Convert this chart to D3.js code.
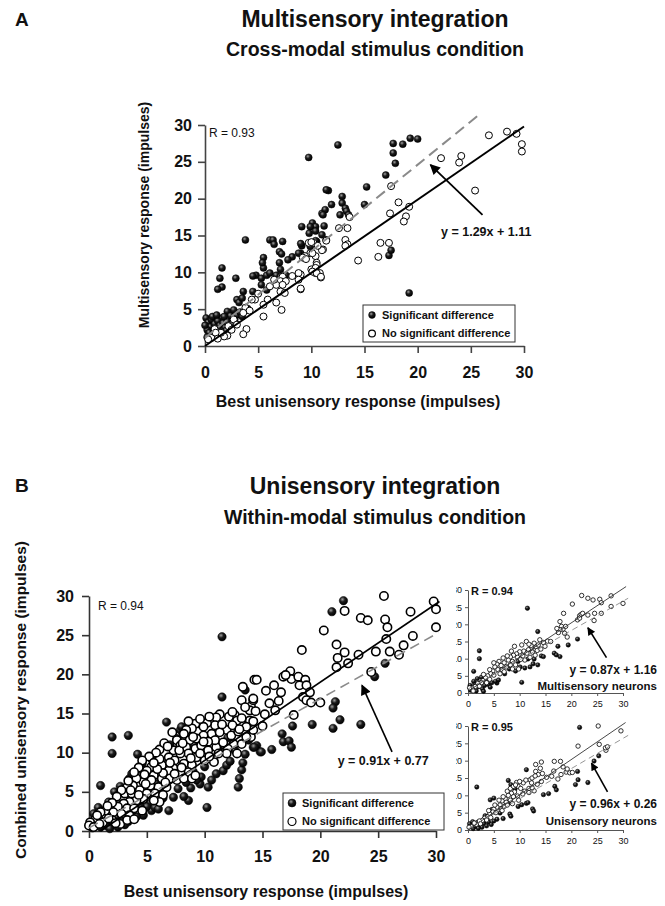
<!DOCTYPE html>
<html><head><meta charset="utf-8">
<script src="https://cdn.jsdelivr.net/npm/d3@7"></script>
<style>body{margin:0;background:#fff} svg{display:block} text{font-family:"Liberation Sans",Arial,Helvetica,sans-serif;fill:#111}</style>
</head><body><svg id="c" width="665" height="906"></svg>
<script>
// ---------- DATA ----------
const ticks = [0,5,10,15,20,25,30];
const tickLabels = ["0","5","10","15","20","25","30"];

// Panel A: Multisensory integration (cross-modal)
const aSig = [[9.75,25.6],[12.5,27.3],[17.7,27.5],[17.7,26.2],[18.6,27.4],[19.3,28.2],[20.0,28.1],[17.9,24.8],[17.0,23.2],[15.2,21.6],[11.6,21.1],[11.4,21.2],[12.9,20.3],[11.9,19.2],[12.9,19.4],[13.2,18.7],[13.3,18.3],[13.5,17.8],[12.7,17.8],[11.0,18.0],[11.3,18.5],[11.1,17.8],[15.0,19.2],[9.1,16.2],[10.1,16.7],[10.4,16.2],[11.2,16.3],[9.9,16.2],[9.8,15.3],[10.4,15.6],[11.0,15.1],[10.5,14.2],[10.4,14.3],[9.1,13.6],[9.0,13.9],[9.9,13.5],[9.0,12.6],[8.8,12.6],[8.2,12.1],[17.3,12.3],[17.5,13.0],[19.2,7.2],
[3.8,14.4],[1.6,10.6],[1.4,9.2],[1.6,8.0],[1.2,7.7],[2.9,9.2],[5.5,10.6],[6.1,14.4],[6.4,14.4],[6.5,13.8],[7.3,14.2],[7.0,12.8],[7.2,12.5],[5.5,12.0],[5.4,11.3],[7.0,11.3],[7.1,10.4],[7.8,11.7],[4.8,9.6],[4.5,9.5],[5.3,9.2],[5.8,9.6],[6.1,9.9],[6.7,9.6],[7.1,9.4],[7.6,9.6],[3.6,7.4],[3.0,6.3],[3.2,5.9],[3.5,6.5],[4.5,7.4],[5.3,8.3],[5.8,7.6],[2.4,4.5],[2.1,4.7],[2.4,4.1],[1.6,3.8],
[0.1,3.8],[0.3,3.2],[0.5,2.6],[0.2,2.2],[0.6,3.6],[0.9,3.0],[1.0,2.4],[1.2,3.4],[1.4,2.8],[1.7,3.1],[1.9,2.5],[2.1,3.3],[2.3,2.8],[0.4,1.8],[0.8,2.0],[1.3,2.0],[1.8,4.0],[2.6,3.0],[2.8,3.6],[3.0,4.2],[0.0,2.8],[0.7,4.0],[1.1,4.2],[3.3,4.6],[2.0,2.1],[1.5,1.6],[3.5,4.0],[4.0,5.1],[2.7,4.9],[0.2,1.2]];
const aNon = [[9.75,14.0],[10.2,14.0],[9.9,12.6],[9.4,12.2],[10.4,12.2],[11.4,14.4],[11.1,13.1],[10.5,11.3],[10.0,10.4],[10.4,9.9],[10.8,9.9],[10.9,9.3],[9.0,9.7],[8.8,9.9],[9.0,7.7],[8.8,9.0],[8.2,9.5],[7.3,9.4],[7.1,8.8],[7.6,8.8],[6.7,8.3],[6.5,9.0],[7.3,8.3],[7.1,7.4],[7.5,7.2],[6.7,5.9],[7.2,4.9],[5.9,6.3],[5.5,5.6],[5.5,4.0],[4.7,6.3],[4.4,6.3],[3.8,5.2],[3.6,4.5],[3.9,2.3],[3.6,1.6],[2.7,3.6],[2.2,2.7],[2.1,1.4],[1.8,1.3],[1.5,1.8],[0.9,2.3],[0.6,1.1],[1.0,1.8],[6.1,8.1],[5.0,7.1],[4.2,4.8],[3.0,2.9],[2.5,2.2],[0.3,0.9],[1.2,1.0],
[26.7,28.6],[24.1,25.8],[23.9,24.9],[22.2,25.5],[25.4,21.1],[17.5,21.7],[18.2,19.5],[19.2,18.9],[18.9,17.6],[18.7,16.9],[17.4,18.0],[16.5,14.0],[17.3,14.0],[16.3,12.1],[14.4,11.6],[13.6,17.5],[13.4,16.0],[12.6,16.0],[13.2,14.4],[13.4,13.8],[13.2,13.6],[11.4,14.3],[11.0,13.0],[10.6,13.6],[10.0,14.1],[10.1,12.6],[9.2,12.0],[9.5,11.8],[10.5,11.0],[10.4,10.6],[10.1,10.1],[10.5,9.9],[10.9,9.4],[9.0,7.8],[28.4,29.1],[29.3,28.8],[29.8,27.4],[29.8,26.4]];
const aUnity = [[0,0],[30,29.8]];
const aFit = [[0,1.1],[25.6,31.2]];
const aArrow = [[26.1,17.8],[21.2,24.6]];

// Panel B: Unisensory integration (within-modal)
const bSig = [[11.5,24.8],[11.5,17.1],[6.7,13.9],[2.0,12.0],[3.4,12.2],[2.0,9.9],[1.0,5.8],[2.7,5.7],[10.2,3.0],[6.9,2.6],[7.3,4.3],[8.6,3.9],[8.2,4.4],[4.6,8.6],[5.4,9.2],[7.9,12.9],[8.0,13.3],[9.5,13.7],[13.5,18.0],[12.9,5.6],[13.0,6.7],[13.2,7.8],[13.3,8.7],[13.5,9.8],[14.2,10.7],[14.5,10.9],[14.8,10.1],[11.6,7.7],[11.9,8.4],[11.0,7.3],[10.6,6.5],[9.6,6.0],[9.7,6.9],[10.3,5.6],[9.3,6.5],[5.3,3.5],[5.4,2.6],[5.0,3.1],[5.7,3.0],[6.0,2.8],[3.5,6.7],[3.7,7.3],[4.4,7.0],[4.7,2.0],[4.1,1.8],[2.8,1.4],[2.1,0.9],[1.5,0.7],[1.0,0.5],[0.7,1.8],[0.4,2.2],[2.4,1.8],[1.7,3.7],[1.8,3.1],
[22.0,29.4],[21.0,28.0],[25.6,21.4],[24.7,19.7],[21.3,16.5],[21.1,15.7],[21.7,14.2],[21.1,13.1],[23.5,13.6],[19.3,13.6],[17.6,13.4],[16.7,12.4],[16.8,11.4],[17.3,11.5],[17.5,10.7],[15.8,10.4],[14.9,10.1],[14.3,10.7],
[1.2,2.4],[2.2,2.6],[2.6,3.4],[3.0,2.2],[3.4,1.2],[3.8,2.6],[0.3,0.4],[1.8,0.3],[2.5,0.5],[3.1,0.8],[1.3,1.3],[0.8,3.0],[4.4,3.2],[3.6,4.0],[6.4,4.2],[6.2,5.1],[7.7,5.4],[8.8,5.5],[9.0,7.6],[8.4,6.2],[10.0,8.2],[10.8,9.0],[12.2,8.9],[12.6,10.3],[11.2,10.4],[7.0,11.0],[7.6,11.8],[8.6,12.4],[9.1,11.0],[6.2,8.8],[6.8,7.2],[5.8,6.0],[4.9,5.2],[3.0,4.8],[2.2,5.0],[4.2,9.8],[13.8,11.6],[12.0,11.9],[14.0,12.6]];
const bNon = [[25.5,30.0],[29.8,29.3],[30.0,28.3],[30.0,26.0],[27.8,28.0],[22.1,28.1],[23.5,27.2],[24.1,26.9],[25.6,27.0],[25.8,26.0],[20.3,25.6],[25.7,24.5],[28.0,24.9],[27.2,23.7],[26.8,22.5],[26.0,22.9],[24.8,22.9],[21.4,23.8],[21.5,22.1],[22.1,22.8],[22.4,21.4],[21.4,20.9],[23.3,22.5],[24.4,20.3],[18.4,23.1],[16.8,19.7],[17.4,20.4],[17.5,19.4],[17.0,19.9],[18.1,19.7],[18.7,19.3],[18.2,18.6],[18.8,18.6],[19.1,17.7],[18.5,17.1],[18.8,16.7],[19.2,16.4],[20.0,16.4],[16.6,17.7],[16.1,15.4],[17.7,14.8],[14.3,19.3],[14.0,15.9],[14.2,16.7],[13.9,14.1],[14.2,14.0],[15.0,13.4],[14.0,12.0],
[14.5,19.3],[13.3,18.4],[13.2,16.7],[14.2,16.9],[13.9,15.4],[12.6,14.8],[12.8,14.1],[13.2,14.4],[12.1,14.6],[11.3,14.9],[11.0,14.5],[11.9,12.9],[12.3,12.2],[12.5,11.1],[12.0,10.5],[11.9,9.9],[12.8,9.9],[13.2,11.1],[13.6,12.0],[14.2,12.9],[10.9,13.5],[10.2,13.8],[9.9,13.3],[9.2,13.7],[8.9,13.1],[8.4,12.9],[8.2,12.4],[10.6,12.4],[9.9,12.2],[9.3,11.8],[8.7,11.6],[7.6,11.6],[7.9,10.9],[8.4,10.7],[9.2,10.5],[9.7,10.9],[10.3,10.3],[11.0,10.7],[11.2,9.9],[10.8,8.8],[10.0,9.0],[9.3,9.4],[8.6,9.9],[7.9,9.9],[7.3,10.3],[6.9,9.4],[7.4,9.0],[8.2,8.6],[8.9,8.4],[8.6,7.5],[7.9,7.5],[7.3,8.0],[6.9,7.7],[6.3,8.4],[6.1,9.2],[6.1,10.4],[5.4,8.2],[5.0,7.7],[5.6,7.1],[6.3,6.7],[7.0,6.7],[7.6,6.5],[8.2,6.7],[8.9,6.7],[9.2,7.1],[6.7,5.6],[6.0,5.6],[5.3,5.8],[4.7,6.3],[4.1,6.7],[3.8,5.8],[3.3,5.6],[3.1,4.8],[3.7,4.8],[4.4,5.2],[5.0,4.8],[5.7,4.8],[6.4,4.6],[6.1,3.7],[5.6,3.9],[4.7,4.1],[4.1,3.9],[3.5,3.7],[3.0,3.5],[2.5,3.1],[3.3,2.9],[3.9,2.9],[4.6,2.6],[3.5,2.0],[2.8,2.2],[2.1,2.4],[1.5,2.0],[1.4,2.6],[1.0,2.4],[0.5,1.4],[0.1,1.1],[0.0,0.7],[0.4,0.5],[1.2,1.1],[2.0,1.4],[2.7,0.9],[3.3,1.4],[3.9,1.5],
[9.6,14.3],[10.4,14.6],[8.6,14.0],[7.2,12.6],[6.5,11.2],[5.8,10.0],[5.2,9.5],[4.6,9.0],[4.8,7.2],[4.3,8.1],[3.9,7.5],[3.4,6.4],[2.8,5.2],[2.4,4.4],[2.0,3.6],[1.6,3.2],[0.7,2.0],[0.9,0.9],[1.7,1.6],[2.3,1.0],[4.3,4.6],[5.4,6.5],[6.6,6.2],[7.4,7.3],[8.0,8.1],[8.8,9.3],[9.6,9.9],[10.4,9.5],[10.9,11.6],[11.6,11.3],[11.3,12.6],[12.9,12.7],[13.6,13.3],[12.4,13.5],[10.3,11.4],[9.0,12.0],[7.8,10.3],[7.0,8.7],[6.4,7.4],[5.9,7.9],[5.6,8.7],[4.9,6.0],[3.6,5.2],[6.8,10.8],[8.1,11.2],[9.9,11.4],[11.5,13.6],[12.4,15.2],[13.5,15.8],[14.4,15.3],[15.2,14.9],[15.6,16.3],[16.4,16.6],[15.3,17.9],[16.0,18.6],[13.0,13.0]];
const bUnity = [[1.0,0],[30.3,29.3]];
const bFit = [[0,0.4],[30.2,25.3]];
const bArrow = [[26.2,10.1],[23.6,18.6]];

// Inset 1: multisensory neurons
const mSig = [[11.5,24.7],[13.5,17.9],[2.2,12.3],[2.2,10.0],[1.1,6.3],[10.4,3.1],[5.6,2.9],[7.1,5.6],[9.7,9.2],[10.1,7.6],[11.0,7.3],[12.0,7.6],[12.6,8.5],[13.5,8.2],[14.2,10.8],[14.6,10.6],[16.7,11.6],[17.1,11.1],[17.4,13.6],[17.8,10.6],[19.4,14.0],[21.2,15.7],[12.8,9.9],[11.6,9.9],[9.2,6.4],[8.0,7.0],[5.3,3.4],[5.9,3.8],
[0.5,0.8],[0.9,1.5],[1.3,2.6],[1.6,0.6],[2.0,1.8],[2.4,3.0],[2.8,1.2],[3.2,2.2],[3.5,3.6],[3.9,2.5],[4.3,1.7],[4.6,3.0],[1.1,3.4],[1.8,4.2],[2.6,4.6],[0.4,2.2],[3.0,0.5],[4.0,4.2]];
const mNon = [[22.0,28.4],[23.2,27.6],[24.2,27.1],[25.5,27.3],[25.8,26.3],[27.7,28.3],[20.2,25.9],[27.7,25.2],[30.0,26.1],[18.5,23.2],[21.6,22.5],[21.9,22.9],[22.2,23.2],[23.2,22.7],[24.5,23.2],[25.8,23.2],[21.2,21.3],[21.6,21.8],[24.4,21.1],[17.8,20.8],[18.1,19.4],[18.4,18.6],[18.9,19.4],[17.8,18.4],[18.7,17.4],[19.2,16.3],[17.5,17.6],[17.2,18.8],[9.0,13.6],[10.4,14.0],[11.3,15.0],[12.8,14.5],[13.9,15.5],[14.6,14.7],[14.9,13.6],[13.2,13.4],[12.3,13.1],[11.7,12.6],[10.8,12.2],[10.0,12.0],[9.4,11.4],[8.8,11.0],[8.2,10.5],[9.6,10.4],[10.6,10.8],[11.4,11.6],[12.5,11.9],[13.4,12.4],[14.1,12.8],[11.0,9.6],[10.2,9.8],[8.6,9.2],[7.8,9.6],[7.0,8.8],[6.4,8.0],[7.4,7.6],[8.2,8.2],[6.0,9.2],[5.6,8.4],[5.2,7.6],[5.8,6.8],[6.6,6.8],[4.8,6.4],[4.4,5.6],[5.0,5.2],[3.8,5.0],[3.4,4.4],[4.2,4.0],[2.9,3.6],[2.6,3.0],[3.6,3.0],[1.9,2.8],[1.4,1.9],[0.8,1.2],[0.3,1.5],[1.0,0.6],[2.2,2.0],[6.2,5.6],[7.0,6.2],[8.6,7.0],[9.2,8.2],[9.8,7.0],[12.0,10.4],[13.0,11.0],[6.8,10.2],[7.6,10.8],[8.4,12.2],[5.0,8.8],[4.2,6.8],[3.0,5.4],[15.4,15.1],[16.0,15.0],[13.6,14.0],[12.2,13.8],[11.8,14.2]];
const mUnity = [[0,0.5],[30.6,31.0]];
const mFit = [[0,1.16],[31.0,27.6]];
const mArrow = [[26.8,10.3],[23.2,19.0]];

// Inset 2: unisensory neurons
const uSig = [[21.6,29.6],[25.3,21.4],[24.4,19.9],[11.3,17.4],[7.8,14.3],[1.7,12.4],[4.3,8.7],[5.0,9.2],[8.3,13.1],[9.1,11.8],[11.3,7.7],[11.6,7.9],[12.5,6.1],[12.7,5.5],[14.6,10.2],[15.6,10.5],[16.8,12.6],[17.1,11.6],[21.2,16.9],[21.3,14.5],[20.8,13.1],[23.2,13.7],[7.7,7.7],[8.1,4.6],[8.3,4.0],[9.7,6.8],[10.4,7.3],[3.3,4.1],[4.6,5.9],[6.2,4.9],[5.6,3.1],[6.8,3.3],
[0.3,1.8],[0.9,2.4],[1.4,1.0],[1.8,2.2],[2.3,1.5],[2.7,0.8],[3.1,1.9],[3.6,1.2],[4.0,2.3],[4.5,1.6],[5.0,2.6],[2.0,0.5],[1.0,0.4],[3.3,2.8]];
const uNon = [[25.2,30.0],[29.6,28.6],[21.3,24.2],[25.4,24.7],[26.7,23.0],[26.6,23.7],[18.4,18.2],[19.0,16.7],[19.7,16.5],[16.7,19.8],[17.9,19.8],[16.2,15.5],[17.4,14.7],[14.2,19.6],[13.1,18.9],[14.0,17.8],[13.1,16.9],[13.6,16.0],[14.4,16.3],[12.0,14.5],[12.3,13.6],[12.8,11.3],[11.8,12.0],[10.7,13.6],[9.4,13.7],[9.7,12.6],[10.2,12.0],[11.0,11.2],[9.0,11.0],[8.4,10.6],[7.8,10.0],[8.8,9.6],[9.6,9.8],[7.2,9.0],[6.6,8.4],[7.4,8.0],[8.2,8.6],[6.2,7.2],[5.6,6.6],[6.4,6.2],[7.0,6.8],[5.0,6.0],[4.8,5.2],[5.4,5.0],[4.2,4.6],[3.8,3.8],[4.4,3.6],[3.2,3.4],[2.8,2.8],[3.6,2.9],[2.2,2.6],[1.6,1.6],[1.2,2.0],[0.6,1.0],[0.2,0.8],[2.4,1.8],[4.0,5.6],[5.2,7.2],[6.0,8.6],[6.8,9.6],[7.6,11.2],[8.2,12.0],[8.8,12.6],[9.2,13.0],[10.0,14.0],[11.2,14.4],[12.4,15.0],[13.0,15.6],[10.6,10.4],[11.8,10.8],[12.4,12.2],[9.8,8.6],[8.6,7.6],[7.6,7.2],[6.6,5.6],[15.2,15.2],[14.2,14.0],[13.4,13.2],[18.0,16.0],[16.6,17.0],[20.2,16.6],[19.2,17.6],[27.0,24.0]];
const uUnity = [[0,0],[30.5,31.0]];
const uFit = [[0,0.3],[31.0,27.3]];
const uArrow = [[27.0,11.0],[23.9,19.3]];

// ---------- DRAW ----------
const svg = d3.select("#c");
const defs = svg.append("defs");
const grad = defs.append("radialGradient").attr("id","ball").attr("cx","38%").attr("cy","34%").attr("r","66%");
grad.append("stop").attr("offset","0%").attr("stop-color","#a0a0a0");
grad.append("stop").attr("offset","45%").attr("stop-color","#1c1c1c");
grad.append("stop").attr("offset","100%").attr("stop-color","#000");
defs.append("clipPath").attr("id","insetClip").append("rect").attr("x",456).attr("y",570).attr("width",220).attr("height",300);
function marker(id, w){
  defs.append("marker").attr("id",id).attr("viewBox","0 0 10 10").attr("refX",9).attr("refY",5)
    .attr("markerUnits","userSpaceOnUse").attr("markerWidth",w).attr("markerHeight",w*0.8).attr("orient","auto")
    .append("path").attr("d","M0,0 L10,5 L0,10 Z").attr("fill","#000");
}
marker("arrBig",13); marker("arrSmall",10);

function panel(o){
  const x = d3.scaleLinear().domain([0,30]).range([o.x0,o.x1]);
  const y = d3.scaleLinear().domain([0,30]).range([o.y0,o.y1]);
  const g = svg.append("g");
  if (o.clip) g.attr("clip-path",`url(#${o.clip})`);
  const ax = g.append("g").attr("transform",`translate(0,${o.y0})`)
    .call(d3.axisBottom(x).tickValues(ticks).tickFormat((d,i)=>tickLabels[i]).tickSize(o.tick).tickSizeOuter(0).tickPadding(o.padX));
  const ay = g.append("g").attr("transform",`translate(${o.x0},0)`)
    .call(d3.axisLeft(y).tickValues(ticks).tickFormat((d,i)=>tickLabels[i]).tickSize(o.tick).tickSizeOuter(0).tickPadding(o.padY));
  [ax,ay].forEach(a=>{
    a.select(".domain").attr("stroke",o.axisColor).attr("stroke-width",o.axisW);
    a.selectAll(".tick line").attr("stroke",o.axisColor).attr("stroke-width",o.axisW);
    a.selectAll(".tick text").attr("font-size",o.tf).attr("font-weight",o.tw).attr("fill","#111")
      .attr("font-family",'"Liberation Sans",Arial,sans-serif');
  });
  const line = d3.line().x(d=>x(d[0])).y(d=>y(d[1]));
  g.append("g").selectAll("circle").data(o.sig).join("circle")
    .attr("cx",d=>x(d[0])).attr("cy",d=>y(d[1])).attr("r",o.r)
    .attr("fill","url(#ball)").attr("stroke","#000").attr("stroke-width",0.5);
  g.append("g").selectAll("circle").data(o.non).join("circle")
    .attr("cx",d=>x(d[0])).attr("cy",d=>y(d[1])).attr("r",o.r)
    .attr("fill","#fff").attr("stroke","#000").attr("stroke-width",o.ow);
  g.append("path").attr("d",line(o.unity)).attr("fill","none").attr("stroke",o.unityColor).attr("stroke-width",o.lw);
  g.append("path").attr("d",line(o.fit)).attr("fill","none").attr("stroke","#8a8a8a").attr("stroke-width",o.lw).attr("stroke-dasharray",o.dash);
  g.append("path").attr("d",line(o.arrow)).attr("fill","none").attr("stroke","#000").attr("stroke-width",o.arW).attr("marker-end",`url(#${o.arM})`);
  return {x,y,g};
}

// Titles
svg.append("text").attr("x",15).attr("y",26).attr("font-size",19).attr("font-weight","bold").text("A");
svg.append("text").attr("x",375).attr("y",27).attr("text-anchor","middle").attr("font-size",23).attr("font-weight","bold").text("Multisensory integration");
svg.append("text").attr("x",375).attr("y",56).attr("text-anchor","middle").attr("font-size",19.5).attr("font-weight","bold").text("Cross-modal stimulus condition");
svg.append("text").attr("x",15).attr("y",492).attr("font-size",19).attr("font-weight","bold").text("B");
svg.append("text").attr("x",375).attr("y",494).attr("text-anchor","middle").attr("font-size",23).attr("font-weight","bold").text("Unisensory integration");
svg.append("text").attr("x",375).attr("y",524).attr("text-anchor","middle").attr("font-size",19.5).attr("font-weight","bold").text("Within-modal stimulus condition");

// Panel A
const A = panel({x0:205,x1:524,y0:346,y1:125,tick:7,padX:14,padY:6,tf:16,tw:"bold",axisColor:"#444",axisW:1.6,
  sig:aSig,non:aNon,r:3.5,ow:1,unity:aUnity,fit:aFit,arrow:aArrow,unityColor:"#000",lw:2,dash:"11,6",arW:1.8,arM:"arrBig"});
A.g.append("text").attr("x",A.x(0)+4).attr("y",A.y(30)+12).attr("font-size",12).text("R = 0.93");
A.g.append("text").attr("x",A.x(22.2)).attr("y",A.y(15.0)).attr("font-size",12.5).attr("font-weight","bold").text("y = 1.29x + 1.11");
svg.append("text").attr("x",358).attr("y",407).attr("text-anchor","middle").attr("font-size",16).attr("font-weight","bold").text("Best unisensory response (impulses)");
svg.append("text").attr("transform","translate(149,215) rotate(-90)").attr("text-anchor","middle").attr("font-size",14).attr("font-weight","bold").text("Multisensory response (impulses)");

function legend(g,x0,y0,w,h,r,fs){
  g.append("rect").attr("x",x0).attr("y",y0).attr("width",w).attr("height",h).attr("fill","#fff").attr("stroke","#333").attr("stroke-width",1);
  g.append("circle").attr("cx",x0+9).attr("cy",y0+h*0.27).attr("r",r).attr("fill","url(#ball)").attr("stroke","#000").attr("stroke-width",0.5);
  g.append("circle").attr("cx",x0+9).attr("cy",y0+h*0.77).attr("r",r).attr("fill","#fff").attr("stroke","#000").attr("stroke-width",1.2);
  g.append("text").attr("x",x0+19).attr("y",y0+h*0.27+4).attr("font-size",fs).attr("font-weight","bold").text("Significant difference");
  g.append("text").attr("x",x0+19).attr("y",y0+h*0.77+4).attr("font-size",fs).attr("font-weight","bold").text("No significant difference");
}
legend(A.g,363,305,152,37,3.4,11);

// Panel B
const B = panel({x0:89,x1:436,y0:831,y1:596,tick:7,padX:13,padY:8,tf:16,tw:"bold",axisColor:"#333",axisW:1.6,
  sig:bSig,non:bNon,r:4.2,ow:1.6,unity:bUnity,fit:bFit,arrow:bArrow,unityColor:"#000",lw:1.6,dash:"10,6",arW:1.6,arM:"arrBig"});
B.g.append("text").attr("x",B.x(0)+9).attr("y",B.y(30)+14).attr("font-size",12).text("R = 0.94");
B.g.append("text").attr("x",B.x(21.5)).attr("y",B.y(8.4)).attr("font-size",12.5).attr("font-weight","bold").text("y = 0.91x + 0.77");
legend(B.g,283,793,161,37,4,11);
svg.append("text").attr("x",266).attr("y",897).attr("text-anchor","middle").attr("font-size",16).attr("font-weight","bold").text("Best unisensory response (impulses)");
svg.append("text").attr("transform","translate(26,700) rotate(-90)").attr("text-anchor","middle").attr("font-size",15.5).attr("font-weight","bold").text("Combined unisensory response (impulses)");

// Insets
const inOpts = {x0:468,x1:623,tick:3,padX:5,padY:3,tf:9,tw:"normal",axisColor:"#555",axisW:1,r:2.2,ow:0.8,unityColor:"#333",lw:0.9,dash:"6,4",arW:1.6,arM:"arrSmall",clip:"insetClip"};
const M = panel(Object.assign({},inOpts,{y0:693,y1:590,sig:mSig,non:mNon,unity:mUnity,fit:mFit,arrow:mArrow}));
M.g.append("text").attr("x",M.x(0)+3).attr("y",M.y(30)+5).attr("font-size",11).attr("font-weight","bold").text("R = 0.94");
M.g.append("text").attr("x",657).attr("y",674).attr("text-anchor","end").attr("font-size",12).attr("font-weight","bold").text("y = 0.87x + 1.16");
M.g.append("text").attr("x",657).attr("y",690).attr("text-anchor","end").attr("font-size",11.5).attr("font-weight","bold").text("Multisensory neurons");
const U = panel(Object.assign({},inOpts,{y0:830,y1:726,sig:uSig,non:uNon,unity:uUnity,fit:uFit,arrow:uArrow}));
U.g.append("text").attr("x",U.x(0)+3).attr("y",U.y(30)+5).attr("font-size",11).attr("font-weight","bold").text("R = 0.95");
U.g.append("text").attr("x",657).attr("y",808).attr("text-anchor","end").attr("font-size",12).attr("font-weight","bold").text("y = 0.96x + 0.26");
U.g.append("text").attr("x",657).attr("y",825).attr("text-anchor","end").attr("font-size",11.5).attr("font-weight","bold").text("Unisensory neurons");
</script></body></html>
